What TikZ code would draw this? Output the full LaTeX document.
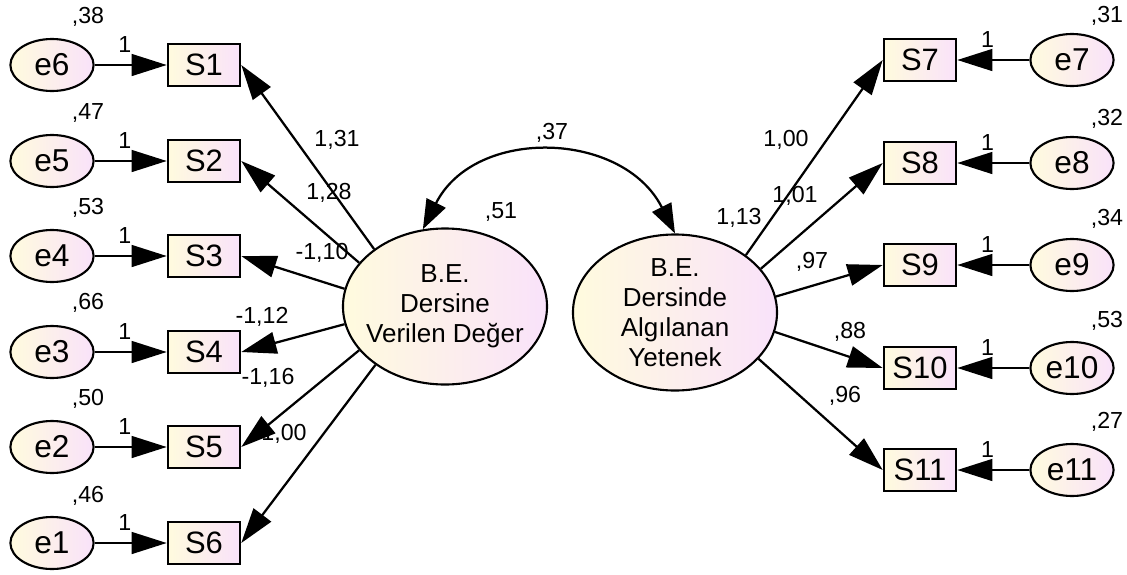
\documentclass[tikz,border=0pt]{standalone}
\usepackage{fontspec}
\setmainfont{Liberation Sans}
\usetikzlibrary{shapes.geometric, arrows.meta, positioning}
\definecolor{amosyel}{RGB}{255,251,222}
\definecolor{amospnk}{RGB}{249,226,250}

\begin{document}
\begin{tikzpicture}[
  x=0.025cm, y=-0.025cm,
  obs/.style={draw, rectangle, line width=1.8pt, minimum width=1.8cm,
    minimum height=1.05cm, inner sep=0pt, left color=amosyel,
    right color=amospnk, font=\fontsize{22}{26}\selectfont},
  err/.style={draw, ellipse, line width=1.5pt, minimum width=2.08cm,
    minimum height=1.3cm, inner sep=0pt, left color=amosyel,
    right color=amospnk, font=\fontsize{22.5}{26}\selectfont},
  lat/.style={draw, ellipse, line width=1.5pt, minimum width=5.1cm,
    minimum height=3.9cm, inner sep=0pt, left color=amosyel,
    right color=amospnk},
  lattxt/.style={align=center, font=\fontsize{18.5}{21.3}\selectfont},
  est/.style={inner sep=0pt, font=\fontsize{16.5}{19}\selectfont},
  one/.style={est, above=8pt},
  reg/.style={line width=1.6pt, -{Triangle[length=25pt, width=15.5pt]}},
  cov/.style={line width=1.6pt,
    {Triangle[length=21pt, width=15pt]}-{Triangle[length=21pt, width=15pt]}}
]
  \useasboundingbox (0,0) rectangle (1127,574);

  %% LATENT VARIABLES
  \node[lat, label={[lattxt]center:B.E.\\Dersine\\Verilen Değer}] (bev) at (445,306.5) {};
  \node[lat, label={[lattxt]center:B.E.\\Dersinde\\Algılanan\\Yetenek}] (bay) at (675,312.5) {};

  %% LEFT SIDE — items and errors
  \node[obs] (s1) at (204,65) {S1};
  \node[obs] (s2) at (204,161) {S2};
  \node[obs] (s3) at (204,256) {S3};
  \node[obs] (s4) at (204,352) {S4};
  \node[obs] (s5) at (204,447) {S5};
  \node[obs] (s6) at (204,543) {S6};

  \node[err] (e6) at (52,65) {e6};
  \node[err] (e5) at (52,161) {e5};
  \node[err] (e4) at (52,256) {e4};
  \node[err] (e3) at (52,352) {e3};
  \node[err] (e2) at (52,447) {e2};
  \node[err] (e1) at (52,543) {e1};

  %% RIGHT SIDE — items and errors
  \node[obs] (s7) at (920,60) {S7};
  \node[obs] (s8) at (920,163) {S8};
  \node[obs] (s9) at (920,265) {S9};
  \node[obs] (s10) at (920,368) {S10};
  \node[obs] (s11) at (920,470) {S11};

  \node[err] (e7) at (1072,60) {e7};
  \node[err] (e8) at (1072,163) {e8};
  \node[err] (e9) at (1072,265) {e9};
  \node[err] (e10) at (1072,368) {e10};
  \node[err] (e11) at (1072,470) {e11};

  %% ERROR VARIANCES
  \node[est] (ve6) at (88,17) {,38};
  \node[est] (ve5) at (88,113) {,47};
  \node[est] (ve4) at (88,208) {,53};
  \node[est] (ve3) at (88,303) {,66};
  \node[est] (ve2) at (88,399) {,50};
  \node[est] (ve1) at (88,496) {,46};
  \node[est] (ve7) at (1107,16) {,31};
  \node[est] (ve8) at (1107,119) {,32};
  \node[est] (ve9) at (1107,219) {,34};
  \node[est] (ve10) at (1107,321) {,53};
  \node[est] (ve11) at (1107,422) {,27};

  %% LOADINGS, VARIANCES, COVARIANCE
  \node[est] (l1) at (337,140) {1,31};
  \node[est] (l2) at (329,193) {1,28};
  \node[est] (l3) at (322,253) {-1,10};
  \node[est] (l4) at (262,317) {-1,12};
  \node[est] (l5) at (268,378) {-1,16};
  \node[est] (l6) at (284,434) {1,00};
  \node[est] (l7) at (786,140) {1,00};
  \node[est] (l8) at (795,196) {1,01};
  \node[est] (vbay) at (739,218) {1,13};
  \node[est] (l9) at (812,262) {,97};
  \node[est] (l10) at (850,332) {,88};
  \node[est] (l11) at (845,396) {,96};
  \node[est] (vbev) at (501,212) {,51};
  \node[est] (cv) at (552,133) {,37};

  %% ERROR PATHS
  \draw[reg] (e6) -- node[one, pos=0.42] (w6) {1} (s1);
  \draw[reg] (e5) -- node[one, pos=0.42] (w5) {1} (s2);
  \draw[reg] (e4) -- node[one, pos=0.42] (w4) {1} (s3);
  \draw[reg] (e3) -- node[one, pos=0.42] (w3) {1} (s4);
  \draw[reg] (e2) -- node[one, pos=0.42] (w2) {1} (s5);
  \draw[reg] (e1) -- node[one, pos=0.42] (w1) {1} (s6);
  \draw[reg] (e7) -- node[one, pos=0.58] (w7) {1} (s7);
  \draw[reg] (e8) -- node[one, pos=0.58] (w8) {1} (s8);
  \draw[reg] (e9) -- node[one, pos=0.58] (w9) {1} (s9);
  \draw[reg] (e10) -- node[one, pos=0.58] (w10) {1} (s10);
  \draw[reg] (e11) -- node[one, pos=0.58] (w11) {1} (s11);

  %% FACTOR LOADING PATHS
  \draw[reg] (bev.141) -- (s1.east);
  \draw[reg] (bev.153) -- (s2.east);
  \draw[reg] (bev.170) -- (s3.east);
  \draw[reg] (bev.190) -- (s4.east);
  \draw[reg] (bev.207) -- (s5.east);
  \draw[reg] (bev.220) -- (s6.east);
  \draw[reg] (bay.39) -- (s7.west);
  \draw[reg] (bay.27) -- (s8.west);
  \draw[reg] (bay.9) -- (s9.west);
  \draw[reg] (bay.-11) -- (s10.west);
  \draw[reg] (bay.-29) -- (s11.west);

  %% COVARIANCE
  \draw[cov] (bev.106) .. controls +(52,-103) and +(-52,-103) .. (bay.90);

\end{tikzpicture}
\end{document}
